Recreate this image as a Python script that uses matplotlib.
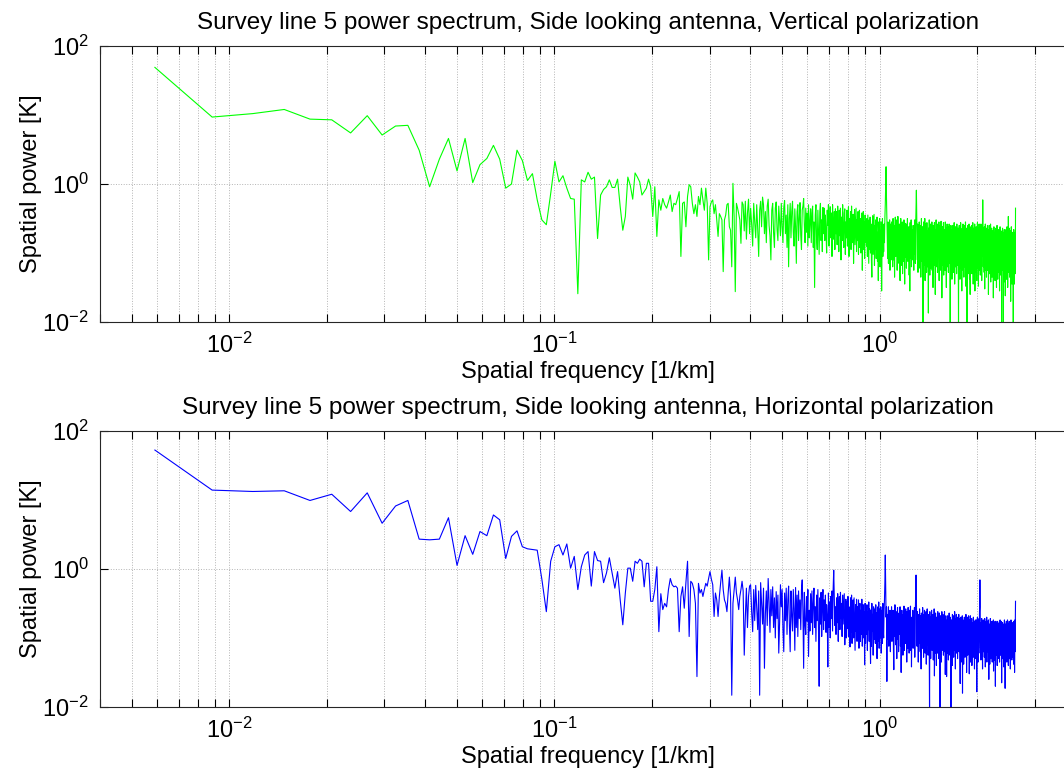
import numpy as np
import matplotlib
matplotlib.use('Agg')
import matplotlib.pyplot as plt
from matplotlib.ticker import LogLocator, NullLocator, LogFormatterSciNotation

plt.rcParams['font.family'] = ['Liberation Sans', 'DejaVu Sans']
plt.rcParams['mathtext.fontset'] = 'custom'
plt.rcParams['mathtext.rm'] = 'Liberation Sans'
plt.rcParams['mathtext.it'] = 'Liberation Sans:italic'
plt.rcParams['mathtext.bf'] = 'Liberation Sans:bold'
plt.rcParams['axes.unicode_minus'] = False

# frequency bin width [1/km]; spectrum starts at bin 2
df = 0.00295
first_bin = 2

# log10 of spatial power, vertical polarization (bins 2..68)
vert_log_low = [
    1.69, 0.97, 1.02, 1.08, 0.94, 0.93, 0.74, 0.99, 0.71, 0.84,
    0.85, 0.49, -0.04, 0.36, 0.66, 0.19, 0.66, 0.02, 0.28, 0.37,
    0.56, 0.36, -0.06, 0.00, 0.49, 0.34, 0.05, 0.15, -0.23, -0.52,
    -0.59, -0.14, 0.33, 0.03,
    0.12, -0.06, -0.21, -0.22, -1.59, 0.06, 0.03, 0.17, 0.07, 0.10,
    -0.79, -0.16, -0.08, -0.04, 0.06, -0.05, -0.05, 0.07, -0.33, -0.67,
    -0.47, 0.10, -0.02, -0.22, 0.16, 0.10, 0.03, -0.16, -0.11, -0.06,
    0.07, -0.04, -0.47,
]
# bins 69..128
vert_log_mid = [
    -0.04, -0.76, -0.23, -0.38, -0.21, -0.30, -0.35, -0.26, -0.16, -0.40,
    -0.28, -0.30, -0.21, -0.11, -1.05, -0.28, -0.26, -0.62, -0.18, -0.01,
    -0.04, -0.28, -0.43, -0.30, -0.47, -0.18, -0.30, -0.06, -0.23, -0.38,
    -0.06, -0.28, -1.10, -0.33, -0.26, -0.23, -0.43, -0.30, -0.52, -0.76,
    -0.43, -0.47, -0.52, -1.27, -0.52, -0.45, -0.30, -0.28, -0.62, -0.67,
    -1.20, 0.01, -0.47, -1.56, -0.28, -0.35, -0.43, -0.52, -0.86, -0.26,
]
# bins 129..888
vert_log_high = [
    -0.30, -0.68, -0.25, -0.80, -0.42, -0.22, -0.72, -0.35, -0.58, -0.90, -0.28, -0.55, -0.78, -0.30, -0.65, -1.05, -0.38, -0.25, -0.62, -0.19,
    -0.30, -0.72, -0.40, -0.85, -0.32, -0.22, -0.60, -0.75, -1.10, -0.38, -0.28, -0.70, -0.92, -0.35, -0.26, -0.66, -0.82, -0.32, -0.55, -0.75,
    -0.28, -0.62, -0.85, -0.34, -0.24, -0.72, -0.45, -0.92, -0.30, -1.20, -0.50, -0.28, -0.78, -0.40, -0.25, -0.70, -0.90, -0.36, -0.62, -1.15,
    -0.40, -0.30, -0.82, -0.50, -0.27, -0.75, -0.95, -0.38, -0.32, -0.21, -0.60, -0.85, -0.35, -0.70, -0.42, -0.90, -0.30, -0.78, -0.55, -0.36,
    -0.85, -0.42, -0.32, -0.92, -0.55, -1.50, -0.45, -0.30, -0.80, -0.95, -0.38, -0.70, -1.02, -0.40, -0.28, -0.82, -0.52, -0.98, -0.34, -0.72,
    -0.35, -0.82, -0.45, -0.68, -1.00, -0.38, -0.60, -0.30, -0.90, -0.52, -0.33, -0.78, -0.42, -1.05, -0.30, -0.65, -0.80, -0.40, -0.95, -0.36,
    -0.72, -0.40, -0.88, -0.32, -0.62, -0.98, -0.38, -0.75, -0.35, -1.10, -0.48, -0.82, -0.30, -0.70, -0.92, -0.42, -0.36, -1.02, -0.55, -0.78,
    -0.38, -0.90, -0.58, -0.33, -1.05, -0.50, -0.80, -0.40, -0.95, -0.32, -0.68, -0.85, -0.44, -1.15, -0.55, -0.37, -0.88, -0.62, -0.35, -0.98,
    -0.52, -0.82, -0.40, -1.02, -0.60, -0.38, -0.92, -0.50, -1.00, -0.62, -0.42, -1.25, -0.70, -0.40, -0.95, -0.55, -1.08, -0.45, -0.85, -0.52,
    -0.90, -0.50, -1.05, -0.45, -0.78, -1.15, -0.52, -0.95, -0.48, -1.00, -0.58, -1.10, -1.35, -0.60, -0.46, -1.02, -0.72, -0.44, -1.18, -0.60,
    -0.95, -0.52, -1.08, -0.66, -0.48, -1.12, -0.70, -1.40, -0.55, -1.00, -0.50, -1.20, -0.68, -0.98, -0.55, -1.55, -0.90, -0.50, -1.05, -0.62,
    -0.98, -0.58, -0.85, -0.50, -0.30, 0.00, 0.25, -0.20, -0.50, -0.88, -1.08, -0.55, -1.15, -0.66, -0.98, -0.52, -1.25, -0.70, -0.58, -1.10,
    -0.55, -1.02, -0.68, -1.20, -0.50, -0.88, -1.10, -0.60, -1.35, -0.72, -0.48, -1.05, -0.66, -0.95, -0.52, -1.25, -0.80, -0.47, -1.08, -0.70,
    -1.15, -0.58, -0.85, -1.40, -0.62, -0.50, -1.18, -0.75, -0.98, -0.55, -1.30, -0.68, -0.90, -1.12, -0.52, -0.82, -1.45, -0.70, -0.57, -1.06,
    -0.74, -1.22, -0.58, -0.95, -0.50, -1.12, -0.69, -1.00, -0.62, -1.32, -0.76, -1.55, -0.56, -1.08, -0.82, -0.52, -1.20, -0.66, -0.98, -0.72,
    -1.10, -0.60, -0.88, -1.25, -0.62, -1.02, -0.52, -0.80, -1.15, -0.55, -0.35, -0.09, -0.45, -0.78, -1.10, -0.58, -1.28, -0.80, -0.65, -1.08,
    -0.55, -0.98, -1.22, -0.70, -0.60, -1.35, -0.85, -0.50, -1.12, -0.74, -1.00, -0.62, -2.10, -0.80, -0.55, -1.18, -0.72, -1.05, -0.50, -1.40,
    -0.82, -0.58, -1.15, -0.72, -1.28, -0.56, -0.95, -0.68, -1.20, -0.80, -1.87, -0.64, -1.05, -0.52, -0.90, -1.32, -0.70, -0.58, -1.22, -0.85,
    -0.62, -1.10, -0.55, -1.25, -0.78, -0.98, -1.50, -0.60, -0.95, -0.70, -1.18, -0.56, -1.02, -0.80, -1.60, -0.66, -1.12, -0.52, -0.90, -1.20,
    -0.70, -0.58, -1.28, -0.92, -0.62, -1.05, -0.75, -0.55, -1.40, -0.82, -1.15, -0.60, -0.98, -0.72, -1.25, -0.54, -1.05, -0.68, -1.65, -0.85,
    -0.62, -1.18, -0.76, -1.02, -0.56, -1.32, -0.85, -0.66, -1.10, -0.74, -1.25, -0.55, -0.96, -0.70, -1.08, -1.50, -0.64, -0.95, -0.58, -1.20,
    -0.78, -1.05, -0.62, -1.28, -0.72, -0.98, -0.58, -1.15, -0.85, -0.68, -2.10, -1.08, -0.76, -0.60, -1.25, -0.88, -0.66, -1.38, -0.98, -0.72,
    -1.12, -0.60, -0.95, -1.28, -0.70, -1.05, -0.56, -0.80, -1.45, -1.00, -0.68, -1.20, -0.62, -0.90, -1.15, -0.74, -1.30, -0.58, -0.98, -0.72,
    -1.18, -0.82, -0.64, -1.02, -2.10, -0.72, -1.25, -0.60, -0.98, -0.78, -1.38, -0.66, -1.10, -0.56, -0.88, -1.22, -0.70, -1.05, -1.55, -0.80,
    -0.64, -1.15, -0.95, -0.58, -1.25, -0.76, -1.02, -1.35, -0.68, -0.88, -0.60, -1.20, -0.80, -1.08, -0.55, -1.48, -0.98, -0.70, -1.28, -0.64,
    -1.05, -2.10, -0.80, -0.66, -1.15, -0.60, -1.30, -0.90, -0.72, -1.12, -0.58, -1.00, -1.38, -0.76, -1.18, -1.60, -0.68, -0.98, -0.62, -1.22,
    -0.80, -1.08, -0.60, -1.30, -0.72, -1.00, -1.20, -0.56, -0.88, -1.45, -0.74, -1.10, -0.64, -1.25, -0.82, -1.02, -0.58, -1.55, -0.95, -0.70,
    -1.15, -0.76, -1.28, -0.62, -1.00, -0.85, -1.40, -0.66, -1.08, -0.56, -1.22, -0.78, -0.98, -0.64, -1.48, -0.74, -1.12, -0.58, -0.90, -1.25,
    -0.70, -1.02, -0.62, -1.32, -0.80, -1.08, -0.58, -1.18, -0.76, -0.95, -1.40, -0.62, -1.05, -0.72, -0.50, -0.23, -0.45, -0.88, -1.20, -0.68,
    -1.10, -0.76, -1.28, -0.62, -1.00, -1.52, -0.72, -1.15, -0.58, -0.92, -1.25, -0.68, -1.05, -0.80, -1.35, -0.64, -1.18, -0.74, -0.98, -0.60,
    -1.25, -0.82, -1.10, -0.66, -1.60, -1.02, -0.74, -1.20, -0.60, -0.95, -1.30, -0.70, -1.08, -0.78, -1.15, -0.58, -1.42, -0.86, -1.05, -0.72,
    -1.22, -0.64, -0.98, -1.35, -0.76, -1.12, -0.68, -1.28, -0.80, -1.02, -1.65, -0.72, -1.15, -0.62, -0.95, -1.25, -0.74, -1.10, -0.84, -1.40,
    -0.70, -1.08, -0.78, -1.30, -0.64, -1.18, -0.88, -1.50, -0.72, -1.05, -0.60, -1.22, -0.82, -0.98, -1.38, -0.68, -1.15, -0.76, -1.28, -0.90,
    -0.66, -1.20, -0.80, -1.02, -1.55, -0.70, -1.12, -0.62, -1.25, -0.86, -0.74, -1.32, -0.95, -0.68, -1.18, -0.78, -2.10, -1.05, -0.72, -1.22,
    -0.84, -0.64, -1.25, -0.96, -0.70, -1.12, -2.10, -0.76, -1.18, -0.82, -1.42, -0.66, -1.08, -0.74, -1.28, -0.90, -0.68, -1.62, -1.00, -0.78,
    -1.20, -0.66, -1.02, -0.80, -1.38, -0.72, -1.15, -0.62, -1.25, -0.92, -0.76, -1.50, -0.98, -0.70, -1.18, -0.47, -0.86, -1.28, -0.74, -1.08,
    -0.64, -1.22, -0.88, -1.35, -0.70, -1.12, -0.78, -1.28, -0.68, -1.70, -1.00, -0.80, -1.20, -0.62, -1.30, -0.92, -0.74, -1.45, -1.08, -0.70,
    -1.25, -0.82, -1.05, -0.72, -1.38, -2.10, -0.96, -1.18, -0.66, -1.28, -0.84, -1.05, -1.45, -0.76, -1.20, -0.92, -0.70, -1.30, -1.10, -0.35,
]

# log10 of spatial power, horizontal polarization (bins 2..68)
horz_log_low = [
    1.72, 1.14, 1.12, 1.13, 0.99, 1.08, 0.83, 1.10, 0.66, 0.91,
    0.99, 0.43, 0.42, 0.43, 0.74, 0.05, 0.48, 0.21, 0.54, 0.48,
    0.78, 0.71, 0.15, 0.47, 0.55, 0.32, 0.29, 0.28, 0.27, -0.15,
    -0.62, 0.11, 0.32, 0.35, 0.20, 0.36, 0.01, 0.18, -0.30, 0.03,
    0.20, 0.25, -0.25, 0.25, 0.12, 0.11, -0.20, -0.06, 0.16, -0.06,
    -0.28, -0.04, -0.45, -0.81, -0.35, 0.01, 0.01, -0.18, 0.11, 0.08,
    0.14, 0.11, -0.26, 0.08, 0.08, -0.47, -0.47,
]
# bins 69..128
horz_log_mid = [
    -0.30, 0.03, -0.91, -0.36, -0.59, -0.50, -0.55, -0.30, -0.14, -0.23,
    -0.26, -0.25, -0.28, -0.91, -0.40, -0.26, -0.57, -0.20, 0.11, -0.98,
    -0.18, -0.21, -0.30, -0.50, -1.56, -0.21, -0.35, -0.30, -0.40, -0.30,
    -0.21, -0.25, -0.14, -0.04, -0.15, -0.23, -0.69, -0.35, -0.45, -0.69,
    -0.40, -0.20, -0.02, -0.30, -0.45, -0.50, -0.62, -0.35, -0.12, -0.40,
    -1.83, -0.50, -0.30, -0.12, -0.35, -0.45, -0.59, -0.40, -0.30, -0.18,
]
# bins 129..888
horz_log_high = [
    -0.32, -1.25, -0.70, -0.28, -0.85, -0.40, -0.25, -0.23, -0.62, -0.91, -0.30, -0.75, -0.24, -0.58, -0.88, -0.32, -1.83, -0.20, -0.50, -0.80,
    -0.28, -1.44, -0.65, -0.32, -0.82, -0.14, -0.48, -0.92, -0.30, -0.68, -0.26, -0.85, -0.42, -1.00, -0.33, -0.72, -0.38, -1.22, -0.78, -0.23,
    -0.55, -0.30, -0.88, -1.20, -0.35, -0.75, -0.28, -0.95, -0.45, -0.25, -0.82, -1.20, -0.32, -0.68, -0.90, -0.30, -0.58, -1.18, -0.27, -0.85,
    -0.38, -0.98, -0.32, -0.72, -0.45, -0.88, -0.30, -0.16, -0.62, -1.44, -0.34, -0.80, -0.95, -0.40, -0.76, -0.30, -1.27, -0.60, -0.90, -0.36,
    -0.78, -0.32, -0.95, -0.50, -0.28, -0.85, -0.55, -1.05, -0.38, -0.75, -0.30, -0.90, -1.70, -0.42, -0.80, -0.34, -0.98, -0.52, -0.30, -0.88,
    -0.45, -0.75, -0.38, -0.92, -0.52, -0.68, -1.42, -0.35, -0.85, -0.48, -1.00, -0.40, -0.72, -0.32, -0.90, -0.30, -0.02, -0.45, -0.82, -0.55,
    -0.95, -0.42, -0.78, -0.36, -1.05, -0.55, -0.40, -0.88, -0.34, -0.72, -0.50, -0.98, -0.38, -0.80, -0.58, -0.36, -1.10, -0.70, -0.44, -1.00,
    -0.48, -0.86, -0.40, -0.98, -0.55, -0.78, -1.13, -0.42, -0.92, -0.38, -1.08, -0.60, -0.45, -1.00, -0.42, -0.82, -1.18, -0.52, -0.90, -0.44,
    -1.05, -0.55, -0.88, -0.45, -1.15, -0.66, -0.50, -1.05, -0.60, -0.95, -0.44, -1.12, -0.70, -0.52, -1.00, -0.62, -1.39, -0.50, -1.08, -0.60,
    -0.95, -0.52, -1.18, -0.62, -0.88, -0.48, -1.05, -0.58, -0.92, -1.37, -0.60, -1.12, -0.50, -0.90, -0.66, -1.25, -0.55, -1.02, -0.68, -0.58,
    -1.08, -0.52, -0.96, -0.64, -1.30, -0.72, -0.55, -1.05, -0.48, -1.15, -0.66, -0.58, -1.00, -0.55, -1.22, -0.74, -0.60, -1.08, -0.50, -0.90,
    -1.00, -0.60, -0.45, -0.20, 0.20, -0.30, -0.70, -0.55, -1.63, -0.66, -1.02, -0.72, -0.55, -1.12, -0.68, -0.95, -0.60, -1.20, -0.74, -1.00,
    -0.55, -1.05, -0.70, -0.92, -0.60, -1.15, -1.46, -0.66, -0.98, -0.52, -0.82, -1.10, -0.62, -0.90, -1.30, -0.70, -0.56, -1.02, -0.75, -1.20,
    -0.64, -0.95, -0.78, -0.55, -1.12, -0.72, -1.50, -0.85, -0.60, -1.05, -0.74, -1.25, -0.66, -0.98, -0.54, -1.18, -0.80, -0.68, -1.08, -0.58,
    -1.00, -0.75, -1.35, -0.62, -0.92, -1.15, -0.56, -0.88, -0.70, -1.22, -0.60, -1.02, -0.80, -0.54, -1.18, -0.70, -1.42, -0.90, -0.72, -1.08,
    -0.60, -1.15, -0.80, -0.68, -1.02, -0.56, -1.28, -0.85, -0.55, -0.35, -0.09, -0.40, -0.78, -1.12, -0.62, -0.98, -0.76, -1.35, -0.66, -0.92,
    -1.08, -0.58, -0.86, -1.20, -0.68, -0.98, -1.45, -0.64, -0.92, -0.74, -1.15, -0.56, -0.96, -0.78, -1.28, -0.66, -1.05, -0.60, -0.88, -1.22,
    -0.72, -0.98, -0.62, -1.38, -0.80, -1.10, -0.58, -0.92, -0.74, -1.25, -0.66, -1.02, -0.76, -1.15, -2.10, -0.62, -0.95, -0.82, -1.30, -0.70,
    -1.05, -0.60, -0.90, -1.18, -0.72, -1.00, -0.66, -1.32, -0.80, -1.10, -0.58, -1.55, -0.92, -0.74, -1.22, -0.64, -1.05, -0.82, -1.40, -0.70,
    -0.96, -0.76, -1.22, -0.62, -1.08, -0.88, -0.70, -1.30, -0.98, -0.64, -1.15, -2.10, -0.84, -0.68, -1.05, -0.78, -1.35, -0.90, -0.62, -1.18,
    -0.80, -1.10, -0.66, -0.98, -1.25, -0.72, -1.05, -0.86, -0.62, -1.20, -0.78, -1.53, -0.92, -0.68, -1.12, -0.82, -1.56, -0.96, -0.74, -1.22,
    -0.68, -1.05, -0.84, -1.32, -0.76, -1.15, -0.64, -0.98, -0.80, -1.25, -0.70, -1.08, -0.88, -2.05, -1.00, -0.74, -1.20, -0.86, -1.40, -0.66,
    -1.12, -0.80, -0.96, -0.68, -1.28, -0.90, -0.76, -1.18, -0.62, -1.05, -0.84, -1.45, -0.72, -1.10, -0.92, -0.66, -1.22, -0.80, -1.02, -0.70,
    -1.30, -0.82, -1.12, -0.74, -0.96, -0.66, -1.20, -0.88, -1.05, -0.72, -1.15, -1.66, -0.80, -1.08, -0.70, -1.35, -0.92, -0.78, -1.22, -0.86,
    -0.68, -1.80, -1.00, -0.74, -1.15, -0.90, -1.38, -0.78, -1.18, -0.70, -1.05, -0.84, -1.28, -0.76, -1.12, -0.94, -0.66, -1.22, -0.88, -1.50,
    -0.78, -1.10, -0.92, -0.70, -1.25, -0.96, -0.80, -1.15, -0.68, -1.05, -0.86, -1.52, -1.12, -0.74, -1.20, -0.90, -0.68, -1.35, -1.02, -0.80,
    -1.18, -0.88, -0.72, -1.40, -1.05, -0.78, -1.15, -0.84, -0.96, -1.28, -0.70, -1.10, -0.90, -1.22, -0.76, -1.45, -0.92, -0.82, -1.12, -0.74,
    -1.02, -1.30, -0.84, -1.15, -0.74, -0.96, -1.78, -0.82, -1.18, -0.70, -1.05, -0.90, -1.35, -0.78, -1.12, -0.88, -1.22, -0.72, -1.00, -0.62,
    -0.55, -0.16, -0.45, -0.82, -1.15, -0.90, -1.32, -0.78, -1.08, -0.94, -0.72, -1.22, -0.86, -1.05, -1.45, -0.80, -1.15, -0.92, -0.74, -1.20,
    -0.86, -1.05, -0.78, -1.28, -0.98, -0.72, -1.18, -0.84, -1.42, -0.92, -1.10, -0.76, -1.22, -0.88, -1.05, -0.70, -1.35, -0.82, -1.12, -0.94,
    -0.76, -1.20, -0.92, -1.08, -0.74, -1.25, -1.60, -0.86, -1.15, -0.80, -0.98, -1.38, -0.84, -1.15, -0.72, -1.05, -0.94, -1.30, -0.80, -1.12,
    -0.88, -1.20, -0.76, -1.02, -1.35, -0.84, -1.12, -0.80, -1.25, -0.95, -0.74, -1.48, -0.90, -1.10, -0.78, -1.18, -0.86, -1.32, -1.00, -0.76,
    -1.15, -1.70, -0.84, -1.05, -0.76, -1.25, -0.92, -1.12, -0.80, -1.20, -0.88, -1.40, -1.05, -0.76, -1.18, -0.86, -1.30, -0.98, -0.82, -1.15,
    -0.90, -1.22, -0.78, -1.08, -1.35, -0.86, -1.02, -0.74, -1.18, -0.92, -1.25, -0.82, -1.12, -0.76, -1.15, -1.00, -1.65, -0.84, -1.20, -0.88,
    -1.05, -0.78, -1.30, -0.92, -1.12, -0.82, -1.20, -0.90, -1.42, -0.80, -1.10, -0.96, -0.74, -1.25, -0.86, -1.08, -1.73, -0.92, -1.18, -0.80,
    -1.28, -0.86, -1.08, -0.76, -1.20, -0.94, -1.35, -0.82, -1.15, -1.00, -0.74, -1.25, -0.92, -1.12, -0.80, -1.40, -0.88, -1.18, -0.84, -1.05,
    -0.76, -1.30, -0.94, -1.12, -0.82, -1.22, -0.90, -1.45, -0.80, -1.10, -0.96, -0.74, -1.25, -0.92, -1.15, -0.86, -1.32, -0.78, -1.05, -0.90,
    -1.18, -0.84, -1.28, -0.92, -0.78, -1.12, -0.96, -1.38, -0.76, -1.15, -0.90, -1.22, -0.82, -1.50, -1.00, -0.74, -1.20, -0.88, -0.70, -0.47,
]

panels = [
    ('Survey line 5 power spectrum, Side looking antenna, Vertical polarization',
     vert_log_low + vert_log_mid + vert_log_high, '#00ff00'),
    ('Survey line 5 power spectrum, Side looking antenna, Horizontal polarization',
     horz_log_low + horz_log_mid + horz_log_high, '#0000ff'),
]

fig = plt.figure(figsize=(10.64, 7.78), dpi=100)
positions = [[0.094, 0.5861, 0.9166, 0.3548], [0.094, 0.0913, 0.9166, 0.3551]]

for (title, logp, color), pos in zip(panels, positions):
    ax = fig.add_axes(pos)
    power = 10.0 ** np.array(logp)
    freq = df * np.arange(first_bin, first_bin + len(power))
    ax.loglog(freq, power, color=color, lw=0.8)

    ax.set_xlim(0.004, 4)
    ax.set_ylim(1e-2, 1e2)
    ax.xaxis.set_major_locator(LogLocator(base=10))
    ax.xaxis.set_minor_locator(LogLocator(base=10, subs=np.arange(2, 10)))
    ax.yaxis.set_major_formatter(LogFormatterSciNotation())
    ax.yaxis.set_minor_locator(NullLocator())
    ax.set_yticks([1e-2, 1e0, 1e2])

    ax.grid(True, which='major', linestyle=':', color='#b4b4b4', lw=0.7)
    ax.grid(True, which='minor', axis='x', linestyle=':', color='#b4b4b4', lw=0.7)
    ax.tick_params(which='both', direction='in', top=True, right=True,
                   length=6, width=0.8, labelsize=17, pad=8)

    for sp in ax.spines.values():
        sp.set_color('#262626')
        sp.set_linewidth(0.8)

    ax.set_title(title, fontsize=17.5, pad=12)
    ax.set_xlabel('Spatial frequency [1/km]', fontsize=17, labelpad=2)
    ax.set_ylabel('Spatial power [K]', fontsize=17, labelpad=0)

fig.savefig('out.png', dpi=100)
